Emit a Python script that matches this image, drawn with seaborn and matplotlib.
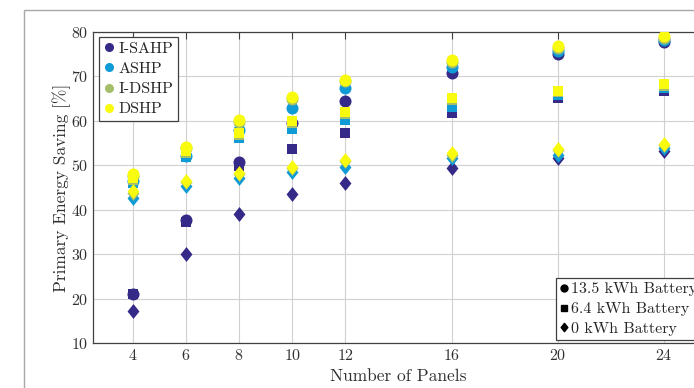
import numpy as np
import pandas as pd
import seaborn as sns
import matplotlib
matplotlib.use("Agg")
import matplotlib.pyplot as plt
from matplotlib.lines import Line2D
from matplotlib.patches import Rectangle
from matplotlib.path import Path

# ---------------- data ----------------
panels = [4, 6, 8, 10, 12, 16, 20, 24]
systems = ["I-SAHP", "ASHP", "I-DSHP", "DSHP"]
batteries = ["13.5 kWh Battery", "6.4 kWh Battery", "0 kWh Battery"]

# 13.5 kWh battery (circles)
isahp_135 = [21.0, 37.7, 50.7, 59.5, 64.5, 70.8, 75.0, 77.8]
ashp_135 = [46.5, 52.1, 58.0, 63.0, 67.3, 72.2, 75.8, 78.2]
idshp_135 = [47.6, 53.8, 59.7, 65.0, 68.9, 73.2, 76.4, 78.7]
dshp_135 = [48.0, 54.2, 60.2, 65.4, 69.2, 73.7, 76.8, 79.0]

# 6.4 kWh battery (squares)
isahp_64 = [21.0, 37.3, 49.8, 53.6, 57.2, 61.8, 65.1, 66.8]
ashp_64 = [46.0, 51.8, 56.1, 58.1, 60.2, 63.2, 65.9, 67.3]
idshp_64 = [46.8, 52.8, 56.9, 59.6, 61.5, 64.7, 66.5, 67.9]
dshp_64 = [47.2, 53.2, 57.2, 60.0, 61.9, 65.1, 66.8, 68.2]

# 0 kWh battery (diamonds)
isahp_0 = [17.2, 30.0, 39.0, 43.5, 46.1, 49.3, 51.6, 53.3]
ashp_0 = [42.6, 45.3, 47.1, 48.6, 49.7, 51.6, 52.4, 53.8]
idshp_0 = [43.8, 46.2, 48.0, 49.4, 51.0, 52.4, 53.4, 54.5]
dshp_0 = [44.1, 46.5, 48.3, 49.7, 51.2, 52.7, 53.7, 54.7]

xticks = [4, 6, 8, 10, 12, 16, 20, 24]
yticks = [10, 20, 30, 40, 50, 60, 70, 80]

values = {
    ("I-SAHP", batteries[0]): isahp_135, ("I-SAHP", batteries[1]): isahp_64, ("I-SAHP", batteries[2]): isahp_0,
    ("ASHP", batteries[0]): ashp_135, ("ASHP", batteries[1]): ashp_64, ("ASHP", batteries[2]): ashp_0,
    ("I-DSHP", batteries[0]): idshp_135, ("I-DSHP", batteries[1]): idshp_64, ("I-DSHP", batteries[2]): idshp_0,
    ("DSHP", batteries[0]): dshp_135, ("DSHP", batteries[1]): dshp_64, ("DSHP", batteries[2]): dshp_0,
}

rows = []
for s in systems:
    for b in batteries:
        for x, v in zip(panels, values[(s, b)]):
            rows.append({"Panels": x, "Saving": v, "System": s, "Battery": b})
df = pd.DataFrame(rows)

# ---------------- style ----------------
sns.set_style("white")
plt.rcParams["font.family"] = ["cmr10", "DejaVu Serif"]
plt.rcParams["mathtext.fontset"] = "cm"
plt.rcParams["axes.formatter.use_mathtext"] = True

colors = {"I-SAHP": "#352a87", "ASHP": "#0f9bd5", "I-DSHP": "#a5be6a", "DSHP": "#f9fb0e"}
diamond = Path([(0, 1), (0.8, 0), (0, -1), (-0.8, 0), (0, 1)],
               [Path.MOVETO, Path.LINETO, Path.LINETO, Path.LINETO, Path.CLOSEPOLY])
markers = {batteries[0]: "o", batteries[1]: "s", batteries[2]: diamond}
sizes = {batteries[0]: 75, batteries[1]: 60, batteries[2]: 115}

fig = plt.figure(figsize=(6.94, 3.88), dpi=100)
fig.patch.set_facecolor("white")
fig.add_artist(Rectangle((24 / 694, -0.2), 1.2, 0.2 + (1 - 10 / 388),
                         transform=fig.transFigure, fill=False,
                         edgecolor="#a8a8a8", linewidth=1.0))

ax = fig.add_axes([93 / 694, (388 - 343) / 388, (704 - 93) / 694, (343 - 32) / 388])

for s in systems:
    for b in batteries:
        sub = df[(df.System == s) & (df.Battery == b)]
        sns.scatterplot(data=sub, x="Panels", y="Saving", ax=ax, color=colors[s],
                        marker=markers[b], s=sizes[b], linewidth=0, legend=False,
                        zorder=3)

ax.set_xlim(2.5, 25.5)
ax.set_ylim(10, 80)
ax.set_xticks(xticks)
ax.set_yticks(yticks)
ax.grid(True, color="#d0d0d0", linewidth=0.8)
ax.set_axisbelow(True)
for sp in ax.spines.values():
    sp.set_color("#404040")
    sp.set_linewidth(0.9)
ax.tick_params(direction="in", length=5, width=0.8, color="#404040",
               labelsize=11.5, labelcolor="#303030", top=True, right=True)
ax.set_xlabel("Number of Panels", fontsize=12.5, color="#303030", labelpad=4)
ax.set_ylabel("Primary Energy Saving [%]", fontsize=12.5, color="#303030", labelpad=-0.5)

h1 = [Line2D([], [], linestyle="none", marker="o", markersize=5.5,
             markerfacecolor=colors[s], markeredgecolor=colors[s]) for s in systems]
leg1 = ax.legend(h1, systems, loc="upper left", bbox_to_anchor=(0.01, 0.985),
                 fontsize=11.5, frameon=True, fancybox=False, framealpha=1,
                 edgecolor="#404040", handlelength=0.6, handletextpad=0.3,
                 borderpad=0.3, labelspacing=0.38, borderaxespad=0.0)
leg1.get_frame().set_linewidth(0.9)
ax.add_artist(leg1)

h2 = [Line2D([], [], linestyle="none", marker=m, markersize=ms,
             markerfacecolor="black", markeredgecolor="black")
      for m, ms in zip(["o", "s", diamond], [5, 4.5, 6])]
leg2 = ax.legend(h2, batteries, loc="lower right", bbox_to_anchor=(0.995, 0.01),
                 fontsize=11.5, frameon=True, fancybox=False, framealpha=1,
                 edgecolor="#404040", handlelength=0.5, handletextpad=0.2,
                 borderpad=0.25, labelspacing=0.35, borderaxespad=0.0)
leg2.get_frame().set_linewidth(0.9)

fig.savefig("out.png", dpi=100, facecolor="white")
